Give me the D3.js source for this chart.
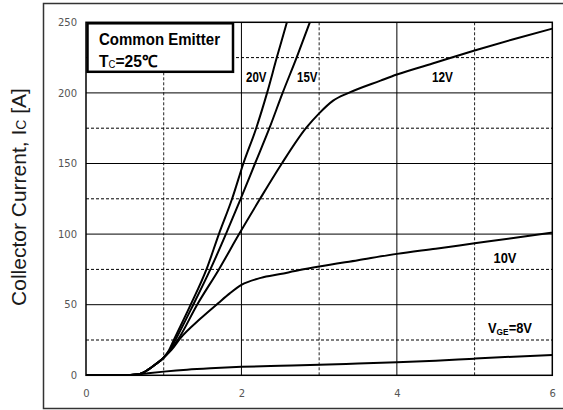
<!DOCTYPE html>
<html>
<head>
<meta charset="utf-8">
<script src="https://cdn.jsdelivr.net/npm/d3@7/dist/d3.min.js"></script>
<style>
  html, body { margin: 0; padding: 0; background: #fff; }
  svg { display: block; }
</style>
</head>
<body>
<svg id="chart" width="563" height="410"></svg>
<script>
// ---- data ----
const xTicks = [0, 2, 4, 6];
const xMinorTicks = [1, 3, 5];
const yTicks = [0, 50, 100, 150, 200, 250];
const yMinorTicks = [25, 75, 125, 175, 225];

const curveStart = [[0, 0], [0.5, 0.1], [0.65, 0.5], [0.72, 1.5], [0.8, 4], [0.9, 8], [1.0, 12.5]];

const curve20V = [[1.07, 18], [1.13, 25], [1.347, 50], [1.55, 75], [1.71, 100], [1.88, 125], [2.025, 150], [2.19, 175], [2.33, 200], [2.455, 225], [2.585, 250], [2.62, 257]];
const curve15V = [[1.08, 18], [1.15, 25], [1.38, 50], [1.60, 75], [1.80, 100], [1.99, 125], [2.175, 150], [2.36, 175], [2.53, 200], [2.71, 225], [2.88, 250], [2.92, 256]];
const curve12V = [[1.1, 19], [1.18, 25], [1.43, 50], [1.71, 75], [1.97, 100], [2.24, 125], [2.52, 150], [2.83, 175], [3.0, 185.5], [3.18, 194.5], [3.38, 200], [3.79, 208.7], [4.0, 213], [4.5, 221.5], [5.0, 230], [5.5, 238], [6.0, 245.5]];
const curve10V = [[1.1, 18], [1.21, 26], [1.47, 40], [1.7, 51], [1.85, 58], [2.0, 64], [2.25, 69], [2.5, 71.7], [2.75, 74.5], [3.0, 77], [3.5, 81.5], [4.0, 86], [4.5, 89.7], [5.0, 93.5], [5.5, 97.3], [6.0, 101]];
const curve8V = [[0, 0], [0.5, 0.1], [0.65, 0.6], [0.8, 1.5], [1.0, 2.6], [1.3, 4.0], [1.6, 5.0], [2.0, 6.0], [2.5, 6.8], [3.0, 7.5], [3.5, 8.3], [4.0, 9.2], [4.5, 10.3], [5.0, 11.8], [5.5, 13.2], [6.0, 14.4]];

const curveNames = ["20V", "15V", "12V", "10V", "8V"];

// ---- layout ----
const svg = d3.select("#chart");
const W = 563, H = 410;
const pLeft = 86, pRight = 552.3, pTop = 22.3, pBottom = 375.3;

const x = d3.scaleLinear().domain([0, 6]).range([pLeft, pRight]);
const y = d3.scaleLinear().domain([0, 250]).range([pBottom, pTop]);

svg.append("rect").attr("width", W).attr("height", H).attr("fill", "#fff");

// outer frame
svg.append("rect")
  .attr("x", 43.5).attr("y", 3.5).attr("width", 640).attr("height", 405)
  .attr("fill", "none").attr("stroke", "#333").attr("stroke-width", 1.5);

// grid
const grid = svg.append("g");
grid.selectAll(".vmaj").data(xTicks.slice(1, -1)).join("line")
  .attr("x1", d => x(d)).attr("x2", d => x(d)).attr("y1", pTop).attr("y2", pBottom)
  .attr("stroke", "#000").attr("stroke-width", 1);
grid.selectAll(".vmin").data(xMinorTicks).join("line")
  .attr("x1", d => x(d)).attr("x2", d => x(d)).attr("y1", pTop).attr("y2", pBottom)
  .attr("stroke", "#222").attr("stroke-width", 1).attr("stroke-dasharray", "3,2");
grid.selectAll(".hmaj").data(yTicks.slice(1, -1)).join("line")
  .attr("x1", pLeft).attr("x2", pRight).attr("y1", d => y(d)).attr("y2", d => y(d))
  .attr("stroke", "#000").attr("stroke-width", 1);
grid.selectAll(".hmin").data(yMinorTicks).join("line")
  .attr("x1", pLeft).attr("x2", pRight).attr("y1", d => y(d)).attr("y2", d => y(d))
  .attr("stroke", "#000").attr("stroke-width", 1).attr("stroke-dasharray", "3,2");

// curves
svg.append("clipPath").attr("id", "clip").append("rect")
  .attr("x", pLeft).attr("y", pTop).attr("width", pRight - pLeft).attr("height", pBottom - pTop);

const line = d3.line().x(d => x(d[0])).y(d => y(d[1])).curve(d3.curveMonotoneX);
const curves = [
  curveStart.concat(curve20V),
  curveStart.concat(curve15V),
  curveStart.concat(curve12V),
  curveStart.concat(curve10V),
  curve8V
];
svg.append("g").attr("clip-path", "url(#clip)")
  .selectAll("path").data(curves).join("path")
  .attr("d", line)
  .attr("fill", "none").attr("stroke", "#000").attr("stroke-width", 2)
  .attr("stroke-linejoin", "round");

// plot border
svg.append("rect")
  .attr("x", pLeft).attr("y", pTop).attr("width", pRight - pLeft).attr("height", pBottom - pTop)
  .attr("fill", "none").attr("stroke", "#000").attr("stroke-width", 1.5);

// axes
const xAxis = svg.append("g").attr("transform", `translate(0,${pBottom})`)
  .call(d3.axisBottom(x).tickValues(xTicks).tickSize(0).tickPadding(15).tickFormat(d3.format("d")));
const yAxis = svg.append("g").attr("transform", `translate(${pLeft},0)`)
  .call(d3.axisLeft(y).tickValues(yTicks).tickSize(0).tickPadding(9).tickFormat(d3.format("d")));
[xAxis, yAxis].forEach(a => {
  a.select(".domain").remove();
  a.selectAll("text").attr("font-family", "'DejaVu Sans', sans-serif").attr("font-size", 10).attr("fill", "#555");
});

// y axis title
const yt = svg.append("text")
  .attr("transform", `translate(26,197) rotate(-90)`)
  .attr("text-anchor", "middle")
  .attr("font-family", "'Liberation Sans', Arial, sans-serif")
  .attr("font-size", 21).attr("fill", "#1a1a1a");
yt.append("tspan").text("Collector Current, I");
yt.append("tspan").attr("font-size", 14).text("C");
yt.append("tspan").text(" [A]");

// legend box
svg.append("rect")
  .attr("x", 87.5).attr("y", 23.3).attr("width", 145.5).attr("height", 48.5)
  .attr("fill", "#fff").attr("stroke", "#000").attr("stroke-width", 2.5);

const boldFont = "'Liberation Sans', Arial, sans-serif";
svg.append("text").attr("x", 99).attr("y", 44.5)
  .attr("font-family", boldFont).attr("font-weight", "bold").attr("font-size", 16.5)
  .attr("textLength", 121).attr("lengthAdjust", "spacingAndGlyphs")
  .text("Common Emitter");
const tc = svg.append("text").attr("x", 99).attr("y", 66.5)
  .attr("font-family", boldFont).attr("font-weight", "bold").attr("font-size", 16.5)
  .attr("textLength", 58).attr("lengthAdjust", "spacingAndGlyphs");
tc.append("tspan").text("T");
tc.append("tspan").attr("font-size", 10).attr("font-weight", "normal").attr("dy", 1).text("C");
tc.append("tspan").attr("dy", -1).text("=25℃");

// curve labels
const labelPos = [
  {x: 246, y: 81.5, w: 20.5},
  {x: 297, y: 81.5, w: 20.5},
  {x: 432, y: 81.5, w: 21},
  {x: 493.5, y: 263.3, w: 23}
];
curveNames.slice(0, 4).forEach((n, i) => {
  svg.append("text").attr("x", labelPos[i].x).attr("y", labelPos[i].y)
    .attr("font-family", boldFont).attr("font-weight", "bold").attr("font-size", 14)
    .attr("textLength", labelPos[i].w).attr("lengthAdjust", "spacingAndGlyphs")
    .text(n);
});
const vge = svg.append("text").attr("x", 488).attr("y", 333.3)
  .attr("font-family", boldFont).attr("font-weight", "bold").attr("font-size", 14)
  .attr("textLength", 44).attr("lengthAdjust", "spacingAndGlyphs");
vge.append("tspan").text("V");
vge.append("tspan").attr("font-size", 9).attr("dy", 2).text("GE");
vge.append("tspan").attr("dy", -2).text("=" + curveNames[4]);
</script>
</body>
</html>
